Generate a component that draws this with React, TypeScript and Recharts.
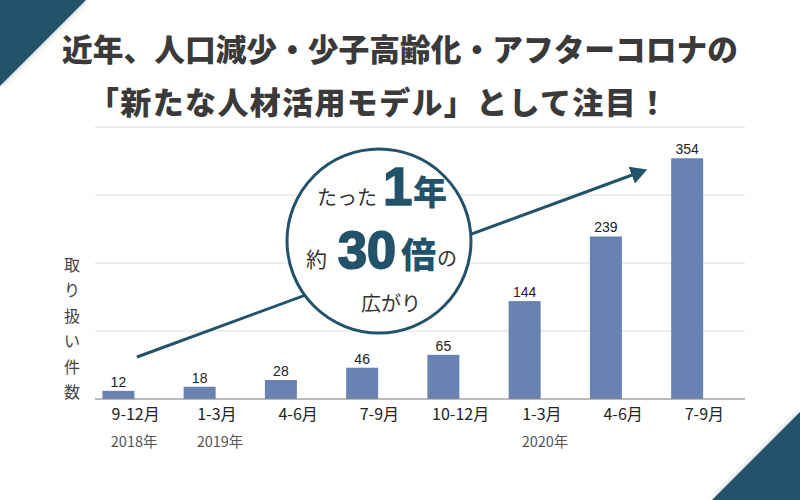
import React from "react";
import { BarChart, Bar, XAxis, YAxis, CartesianGrid } from "recharts";

const periods = ["9-12月", "1-3月", "4-6月", "7-9月", "10-12月", "1-3月", "4-6月", "7-9月"];
const years = ["2018年", "2019年", "", "", "", "2020年", "", ""];
const counts = [12, 18, 28, 46, 65, 144, 239, 354];
const yTicks = [0, 100, 200, 300, 400];
const axisChars = ["取", "り", "扱", "い", "件", "数"];
const titleLines = ["近年、人口減少・少子高齢化・アフターコロナの", "「新たな人材活用モデル」として注目！"];

const TEAL = "#23536a";
const BAR_COLOR = "#6883b1";
const JP = "'Noto Sans CJK JP', 'Noto Sans', sans-serif";
const NUM = "'Liberation Sans', Arial, sans-serif";

const data = periods.map((p, i) => ({ period: p, count: counts[i] }));

// bars sit to the left of the band centre in the original (Keynote style)
const BAR_SHIFT = -17.6;

const ShiftedBar = (props: any) => {
  const { x, y, width, height, payload } = props;
  const bx = x + BAR_SHIFT;
  return (
    <g>
      <rect x={bx} y={y} width={width} height={height} fill={BAR_COLOR} />
      <text x={bx + width / 2} y={y - 4} textAnchor="middle" fontSize={14} fontFamily={NUM} fill="#222">
        {payload.count}
      </text>
    </g>
  );
};

// rough width of a month label, used to left-align the year under it
const labelWidth = (s: string) =>
  s.split("").reduce((w, c) => w + (c === "月" ? 16 : c === "-" ? 6 : 9.2), 0);

const PeriodTick = (props: any) => {
  const { x, y, payload, index } = props;
  const label = payload.value as string;
  const year = years[index];
  return (
    <g>
      <text x={x} y={y + 13} textAnchor="middle" fontSize={16} fontFamily={JP} fill="#222">
        {label}
      </text>
      {year && (
        <text x={x - labelWidth(label) / 2} y={y + 40} textAnchor="start" fontSize={14.5} fontFamily={JP} fill="#555">
          {year}
        </text>
      )}
    </g>
  );
};

const App: React.FC = () => {
  return (
    <div style={{ position: "absolute", left: 0, top: 0, width: 800, height: 500, background: "#fff", overflow: "hidden" }}>
      <BarChart
        width={800}
        height={500}
        data={data}
        margin={{ top: 127, right: 55, bottom: 71, left: 95 }}
        barSize={32}
      >
        <CartesianGrid vertical={false} stroke="#dcdcdc" />
        <YAxis hide domain={[0, 400]} ticks={yTicks} width={0} />
        <XAxis
          dataKey="period"
          axisLine={{ stroke: "#8a8a8a" }}
          tickLine={false}
          interval={0}
          tick={<PeriodTick />}
        />
        <Bar dataKey="count" isAnimationActive={false} shape={<ShiftedBar />} />
      </BarChart>

      <svg width={800} height={500} style={{ position: "absolute", left: 0, top: 0, pointerEvents: "none" }}>
        <defs>
          <filter id="shade" x="-20%" y="-20%" width="140%" height="140%">
            <feDropShadow dx="0" dy="0" stdDeviation="3" floodColor="#000" floodOpacity="0.25" />
          </filter>
          <marker id="head" markerWidth="6" markerHeight="6" refX="4" refY="3" orient="auto" markerUnits="strokeWidth">
            <path d="M0,0 L5.5,3 L0,6 z" fill={TEAL} />
          </marker>
        </defs>

        <polygon points="0,0 86,0 0,86" fill={TEAL} filter="url(#shade)" />
        <polygon points="712,500 800,412 800,500" fill={TEAL} filter="url(#shade)" />

        <text x={62} y={61} textLength={676} lengthAdjust="spacingAndGlyphs" fontSize={31} fontWeight={900} fontFamily={JP} fill="#3a3a3a">
          {titleLines[0]}
        </text>
        <text x={88} y={114} textLength={580} lengthAdjust="spacing" fontSize={31} fontWeight={900} fontFamily={JP} fill="#3a3a3a">
          {titleLines[1]}
        </text>

        {axisChars.map((c, i) => (
          <text key={i} x={72} y={271 + i * 25.4} textAnchor="middle" fontSize={16} fontFamily={JP} fill="#444">
            {c}
          </text>
        ))}

        <line x1={137} y1={357} x2={643} y2={171} stroke={TEAL} strokeWidth={3} markerEnd="url(#head)" />

        <circle cx={379} cy={241} r={92} fill="#fff" stroke={TEAL} strokeWidth={3} />
        <text x={317} y={205} fontSize={20} fontFamily={JP} fill="#333">たった</text>
        <text x={383} y={205} fontSize={53} fontWeight={900} fontFamily={NUM} fill={TEAL} stroke={TEAL} strokeWidth={1.5}>1</text>
        <text x={413} y={205} fontSize={34} fontWeight={900} fontFamily={JP} fill={TEAL}>年</text>
        <text x={306} y={267} fontSize={21} fontFamily={JP} fill="#333">約</text>
        <text x={338} y={268} fontSize={52} fontWeight={900} fontFamily={NUM} fill={TEAL} stroke={TEAL} strokeWidth={2}>30</text>
        <text x={401} y={268} fontSize={35} fontWeight={900} fontFamily={JP} fill={TEAL}>倍</text>
        <text x={437} y={266} fontSize={20} fontFamily={JP} fill="#333">の</text>
        <text x={361} y={311} fontSize={20} fontFamily={JP} fill="#333">広がり</text>
      </svg>
    </div>
  );
};

export default App;
